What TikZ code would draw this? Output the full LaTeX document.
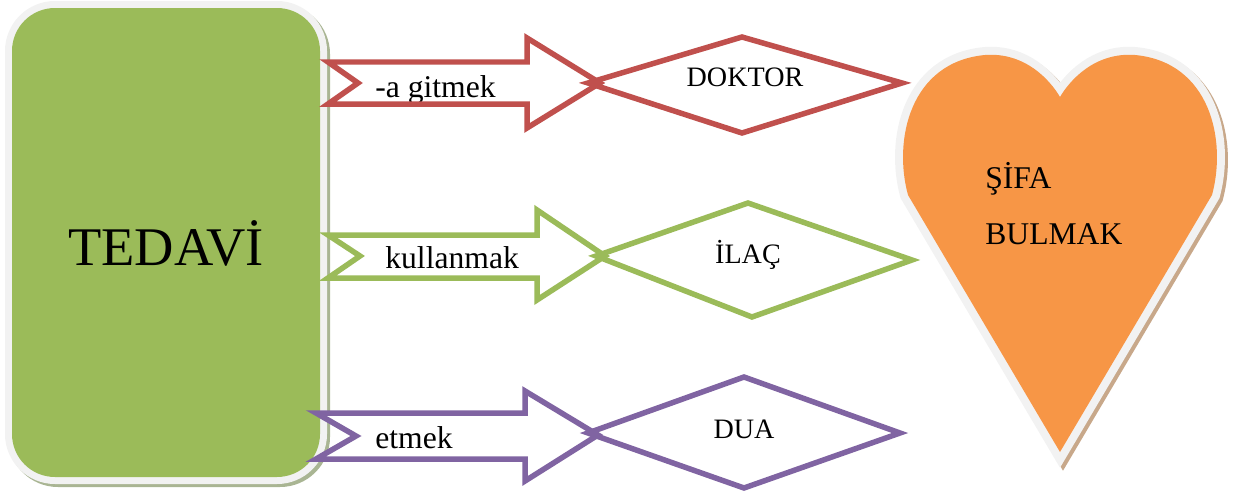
\documentclass[tikz,border=0pt]{standalone}
\usepackage{fontspec}
\setmainfont{Liberation Serif}
\definecolor{cred}{HTML}{C0504D}
\definecolor{cgreen}{HTML}{9BBB59}
\definecolor{cpurple}{HTML}{8064A2}
\definecolor{corange}{HTML}{F79646}
\definecolor{cborder}{HTML}{F2F2F2}
\definecolor{cboxshadow}{HTML}{A9B593}
\definecolor{cheartshadow}{HTML}{C8A88A}
\begin{document}
\begin{tikzpicture}[x=0.02cm,y=-0.02cm,
  outline/.style={line width=0.11cm, line join=miter},
  arrowlabel/.style={inner sep=0pt, anchor=base west, font=\fontsize{18}{20}\selectfont},
  diamondlabel/.style={inner sep=0pt, anchor=base, font=\fontsize{16}{18}\selectfont},
  heartlabel/.style={inner sep=0pt, anchor=base west, font=\fontsize{18}{20}\selectfont}]
\useasboundingbox (0,0) rectangle (1242,497);

% ---- TEDAVI box ----
\draw[cboxshadow, line width=0.28cm, rounded corners=0.86cm] (15,11) rectangle (323,480);
\draw[cborder, line width=0.28cm, rounded corners=0.86cm] (12,8) rectangle (320,477);
\fill[cgreen, rounded corners=0.86cm] (12,8) rectangle (320,477);
\node[inner sep=0pt, anchor=base, font=\fontsize{31}{35}\selectfont] (tedavi) at (166,265) {TEDAV\.{I}};

% ---- heart ----
\def\heartpath{(1060,452) -- (908,195) .. controls (893,140) and (910,62) .. (985,55)
  .. controls (1025,52) and (1050,80) .. (1060,97)
  .. controls (1070,80) and (1095,52) .. (1135,55)
  .. controls (1210,62) and (1227,140) .. (1212,195) -- cycle}
\begin{scope}[shift={(3,3)}]
\filldraw[cheartshadow, line width=0.32cm] \heartpath;
\end{scope}
\draw[cborder, line width=0.32cm] \heartpath;
\fill[corange] \heartpath;
\node[heartlabel] (sifa) at (985,188) {ŞİFA};
\node[heartlabel] (bulmak) at (985,244) {BULMAK};

% ---- red arrow + diamond ----
\fill[white] (328,62) -- (527,62) -- (527,38) -- (600,83) -- (527,128) -- (527,104) -- (328,104) -- (358,83) -- cycle;
\node[arrowlabel] (gitmek) at (375,97) {-a gitmek};
\draw[cred, outline] (328,62) -- (527,62) -- (527,38) -- (600,83) -- (527,128) -- (527,104) -- (328,104) -- (358,83) -- cycle;
\draw[cred, outline] (588,83) -- (742,37) -- (902,83) -- (742,133) -- cycle;
\node[diamondlabel] (doktor) at (745,86) {DOKTOR};

% ---- green arrow + diamond ----
\fill[white] (328,235) -- (537,235) -- (537,210) -- (605,256) -- (537,300) -- (537,278) -- (328,278) -- (360,256) -- cycle;
\node[arrowlabel] (kullanmak) at (385,268) {kullanmak};
\draw[cgreen, outline] (328,235) -- (537,235) -- (537,210) -- (605,256) -- (537,300) -- (537,278) -- (328,278) -- (360,256) -- cycle;
\draw[cgreen, outline] (596,256) -- (748,203) -- (912,260) -- (752,317) -- cycle;
\node[diamondlabel] (ilac) at (748,263) {İLAÇ};

% ---- purple arrow + diamond ----
\fill[white] (316,413) -- (525,413) -- (525,391) -- (598,435) -- (525,481) -- (525,459) -- (316,459) -- (356,436) -- cycle;
\node[arrowlabel] (etmek) at (375,448) {etmek};
\draw[cpurple, outline] (316,413) -- (525,413) -- (525,391) -- (598,435) -- (525,481) -- (525,459) -- (316,459) -- (356,436) -- cycle;
\draw[cpurple, outline] (588,433) -- (744,377) -- (900,433) -- (744,488) -- cycle;
\node[diamondlabel] (dua) at (744,438) {DUA};
\end{tikzpicture}
\end{document}
